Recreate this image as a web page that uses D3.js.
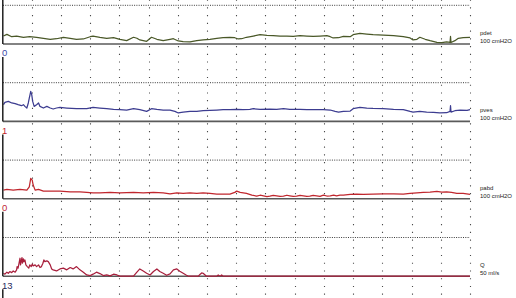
<!DOCTYPE html>
<html>
<head>
<meta charset="utf-8">
<script src="https://cdn.jsdelivr.net/npm/d3@7"></script>
<style>
  html, body { margin: 0; padding: 0; background: #fff; }
  #chart { width: 516px; height: 298px; }
  text { font-family: "Liberation Sans", Arial, sans-serif; }
</style>
</head>
<body>
<div id="chart"></div>
<script>
// channel info
const CHANNELS = ['pdet', 'pves', 'pabd', 'Q'];
const UNITS = ['100 cmH2O', '100 cmH2O', '100 cmH2O', '50 ml/s'];
const FULL_SCALE = [100, 100, 100, 50];
const LEFT_MARKS = ['0', '1', '0', '13'];
const TRACE_COLORS = ['#4a5828', '#3c3c90', '#c0272e', '#a81f3c'];
const MARK_COLORS = ['#3d4ba8', '#c4262e', '#c0283a', '#1f2b5c'];
const TIME_TICKS = d3.range(60, 961, 60);

// [time s, value]
const pdetData = [
  [2, 10.3], [9, 12.5], [19, 9.4], [29, 10.3], [43, 8.7], [56, 9.4], [70, 8.7], [84, 7.4],
  [98, 6.1], [111, 6.8], [125, 8.7], [139, 7.4], [152, 6.1], [166, 6.5], [180, 9.4], [186, 10.3],
  [200, 8.7], [214, 7.4], [228, 8.1], [241, 6.1], [255, 4.3], [269, 8.7], [276, 7.4], [282, 5.2],
  [296, 3.5], [306, 8.7], [317, 6.1], [330, 4.3], [344, 5.9], [351, 6.8], [361, 3.9], [371, 3.0],
  [385, 2.6], [399, 4.3], [412, 5.2], [426, 6.1], [440, 7.4], [453, 8.1], [467, 8.7], [477, 8.1],
  [484, 6.5], [491, 6.8], [501, 8.7], [515, 10.3], [529, 12.0], [543, 11.2], [556, 10.7], [570, 10.3],
  [584, 10.3], [597, 9.9], [611, 10.7], [625, 10.3], [638, 9.9], [652, 10.3], [666, 10.7], [673, 9.4],
  [679, 7.8], [690, 8.1], [700, 9.9], [714, 9.4], [720, 12.0], [734, 13.8], [748, 12.9], [761, 12.0],
  [782, 11.6], [803, 10.7], [823, 9.4], [837, 7.8], [843, 5.2], [851, 6.1], [857, 8.7], [868, 6.1],
  [878, 4.3], [892, 2.2], [902, 1.7], [912, 2.6], [919, 2.0], [920, 9.7], [921, 1.9], [929, 4.3],
  [936, 7.4], [946, 8.1], [960, 8.7]
];

const pvesData = [
  [2, 21.6], [5, 24.5], [12, 25.8], [19, 23.8], [26, 22.9], [32, 21.6], [39, 20.3], [43, 21.6],
  [46, 19.4], [50, 17.3], [53, 23.8], [55, 30.2], [58, 38.8], [60, 34.5], [62, 25.8], [65, 19.4],
  [70, 21.6], [74, 23.8], [77, 19.4], [84, 17.3], [91, 19.4], [98, 17.3], [104, 16.0], [111, 17.3],
  [118, 18.1], [132, 17.3], [152, 16.4], [173, 16.4], [186, 18.1], [200, 17.3], [214, 16.4], [228, 15.5],
  [241, 15.1], [255, 14.7], [269, 16.4], [282, 15.1], [296, 12.9], [306, 16.4], [317, 15.5], [330, 14.7],
  [344, 14.5], [354, 12.9], [361, 10.9], [371, 12.1], [385, 12.9], [399, 12.9], [412, 13.8], [426, 14.2],
  [440, 14.7], [453, 15.1], [467, 15.1], [481, 15.5], [494, 15.1], [508, 15.5], [515, 16.4], [529, 15.5],
  [549, 16.0], [563, 15.5], [577, 16.4], [590, 15.5], [611, 15.5], [625, 15.1], [645, 15.1], [659, 15.1],
  [673, 14.7], [683, 12.9], [690, 12.1], [700, 12.9], [714, 13.4], [720, 16.4], [734, 18.1], [748, 17.3],
  [761, 16.8], [782, 16.4], [803, 15.5], [823, 15.1], [837, 12.9], [843, 12.1], [857, 12.9], [871, 12.1],
  [885, 11.6], [898, 10.9], [912, 11.2], [919, 12.9], [920, 20.3], [921, 12.1], [929, 13.8], [940, 14.7],
  [954, 14.2], [960, 15.1]
];

const pabdData = [
  [2, 11.2], [9, 12.1], [22, 11.2], [36, 12.1], [50, 11.2], [55, 15.5], [58, 26.4], [61, 24.2],
  [63, 17.7], [67, 11.2], [74, 12.1], [84, 9.9], [98, 9.9], [118, 9.9], [139, 9.0], [159, 9.0],
  [173, 8.3], [186, 7.8], [200, 7.8], [221, 8.3], [241, 7.8], [269, 8.3], [289, 7.8], [310, 8.3],
  [330, 7.8], [344, 6.5], [358, 7.8], [371, 7.0], [385, 7.8], [399, 7.0], [412, 7.8], [426, 7.0],
  [440, 6.1], [453, 6.1], [467, 6.1], [477, 8.3], [481, 9.9], [488, 8.3], [501, 7.0], [512, 4.8],
  [522, 3.5], [529, 4.6], [536, 3.9], [543, 2.9], [549, 3.5], [556, 4.5], [563, 3.9], [570, 3.0],
  [577, 3.5], [584, 4.6], [590, 3.9], [597, 3.0], [604, 3.5], [611, 4.5], [618, 3.9], [625, 3.0],
  [631, 3.5], [638, 4.4], [645, 3.9], [652, 3.2], [659, 4.8], [666, 3.6], [673, 3.9], [680, 4.8],
  [686, 3.9], [693, 4.6], [700, 4.8], [714, 5.7], [727, 6.1], [741, 5.8], [761, 6.1], [782, 6.5],
  [803, 6.5], [823, 6.1], [837, 7.0], [851, 7.8], [864, 8.3], [878, 8.7], [892, 9.6], [902, 8.7],
  [912, 9.0], [922, 8.3], [933, 7.0], [946, 7.0], [960, 5.7]
];

const qData = [
  [2, 1.9], [5, 1.3], [9, 2.6], [12, 1.9], [15, 3.0], [19, 2.3], [22, 3.4], [26, 2.6],
  [29, 4.1], [30, 6.2], [32, 5.2], [34, 8.4], [36, 11.6], [37, 7.3], [39, 10.5], [40, 12.0],
  [41, 8.4], [43, 11.2], [44, 9.4], [46, 10.5], [48, 7.3], [51, 6.2], [54, 5.2], [56, 7.3],
  [59, 6.2], [61, 7.8], [63, 6.7], [67, 7.3], [70, 6.2], [74, 7.3], [77, 5.6], [80, 6.2],
  [83, 8.4], [85, 10.5], [87, 9.4], [91, 9.9], [94, 9.4], [98, 7.3], [101, 4.7], [104, 4.1],
  [111, 3.4], [118, 4.7], [125, 5.2], [132, 4.1], [139, 5.6], [145, 4.7], [152, 6.2], [159, 4.1],
  [166, 2.6], [173, 0.8], [180, 0.4], [186, 1.3], [193, 2.6], [200, 1.7], [207, 0.4], [214, 0.8],
  [221, 0.2], [228, 1.3], [235, 0.8], [241, 0], [269, 0], [276, 2.6], [282, 4.7], [289, 3.4],
  [296, 1.9], [303, 0.8], [310, 3.0], [317, 4.7], [323, 3.0], [330, 1.9], [337, 0.6], [344, 1.5],
  [351, 4.1], [358, 4.7], [364, 3.2], [371, 1.9], [377, 0.8], [382, 0], [402, 0], [406, 1.3],
  [409, 2.1], [412, 1.9], [416, 0.8], [419, 0], [440, 0], [443, 0.8], [447, 0], [450, 0.8],
  [453, 0], [960, 0]
];

const SERIES = [pdetData, pvesData, pabdData, qData];

const WIDTH = 516, HEIGHT = 298;
const FIRST_BASE = 44, PANEL_H = 77.4;

let svg = d3.select('#chart')
    .append('svg')
    .attr('width', WIDTH)
    .attr('height', HEIGHT);

let x = d3.scaleLinear()
    .domain([0, 960])
    .range([2.5, 470]);

let baselines = CHANNELS.map(function (c, i) {
    return FIRST_BASE + PANEL_H * i;
});

// vertical dotted grid
svg.append('g')
    .selectAll('line')
    .data(TIME_TICKS)
    .join('line')
    .attr('x1', d => Math.round(x(d)) + 0.5)
    .attr('x2', d => Math.round(x(d)) + 0.5)
    .attr('y1', -0.5)
    .attr('y2', HEIGHT)
    .attr('stroke', '#4a4a4a')
    .attr('stroke-width', 1.1)
    .attr('stroke-dasharray', '1.2 6.54');

CHANNELS.forEach(function (name, i) {
    let base = baselines[i];
    let y = d3.scaleLinear()
        .domain([0, FULL_SCALE[i]])
        .range([base, base - PANEL_H]);

    // half scale dotted line
    svg.append('line')
        .attr('x1', 3)
        .attr('x2', 470)
        .attr('y1', y(FULL_SCALE[i] / 2))
        .attr('y2', y(FULL_SCALE[i] / 2))
        .attr('stroke', '#3a3a3a')
        .attr('stroke-width', 1)
        .attr('stroke-dasharray', '1 1.3');

    // zero line
    svg.append('line')
        .attr('x1', 3)
        .attr('x2', 470)
        .attr('y1', y(0))
        .attr('y2', y(0))
        .attr('stroke', '#5a5a5a')
        .attr('stroke-width', 1.6);

    // trace
    let lineGenerator = d3.line()
        .x(d => x(d[0]))
        .y(d => y(d[1]));
    svg.append('path')
        .datum(SERIES[i])
        .attr('fill', 'none')
        .attr('stroke', TRACE_COLORS[i])
        .attr('stroke-width', 1.25)
        .attr('stroke-linejoin', 'round')
        .attr('d', lineGenerator);

    // right labels
    svg.append('text')
        .attr('x', 480)
        .attr('y', base - 9)
        .attr('font-size', 6)
        .attr('fill', '#222')
        .text(name);
    svg.append('text')
        .attr('x', 480)
        .attr('y', base - 1)
        .attr('font-size', 6)
        .attr('fill', '#222')
        .text(UNITS[i]);

    // left marks below each zero line
    svg.append('text')
        .attr('x', 2)
        .attr('y', base + 12.3)
        .attr('font-size', 9.5)
        .attr('fill', MARK_COLORS[i])
        .text(LEFT_MARKS[i]);
});

// left axis, broken where the marks sit
let axisSegments = [[0, baselines[0]]];
baselines.forEach(function (b, i) {
    let end = i + 1 < baselines.length ? baselines[i + 1] : HEIGHT;
    axisSegments.push([b + 13, end]);
});
svg.append('g')
    .selectAll('line')
    .data(axisSegments)
    .join('line')
    .attr('x1', 2.8)
    .attr('x2', 2.8)
    .attr('y1', d => d[0])
    .attr('y2', d => d[1])
    .attr('stroke', '#111')
    .attr('stroke-width', 1.4);
</script>
</body>
</html>
